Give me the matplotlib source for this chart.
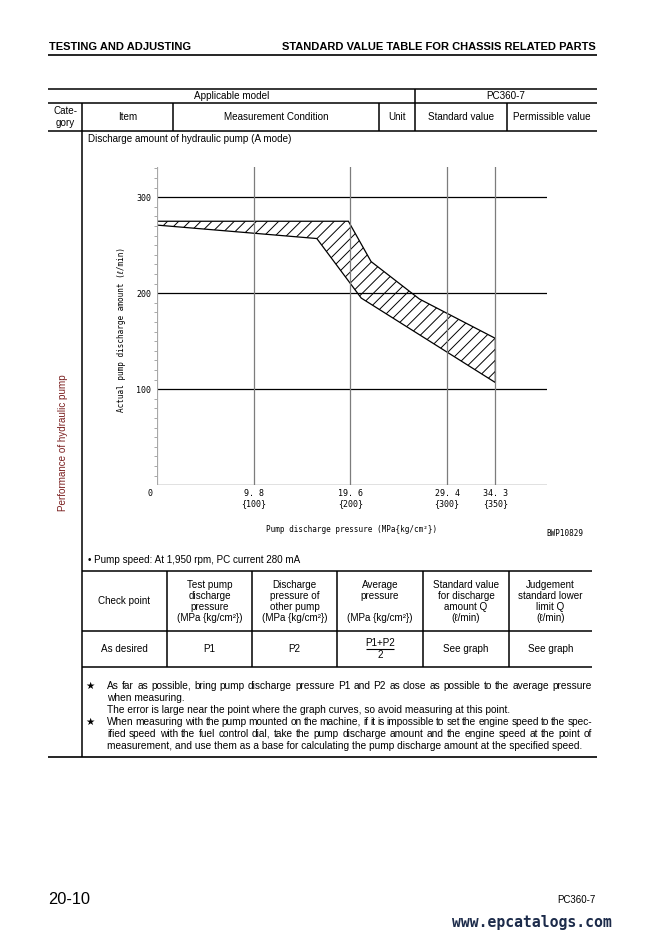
import matplotlib
matplotlib.use("Agg")
import matplotlib.pyplot as plt

plt.rcParams['font.family'] = ['Liberation Sans', 'DejaVu Sans']
plt.rcParams['hatch.linewidth'] = 0.7

W, H = 663, 939
MONO = ['DejaVu Sans Mono', 'DejaVu Sans']
BODY = 7.1

# Valori (pressione MPa, portata l/min)
pressure_mpa = [9.8, 19.6, 29.4, 34.3]
pressure_kg = [100, 200, 300, 350]
flow_ticks = [100, 200, 300]
upper_p = [0, 19.4, 21.7, 26.6, 34.3]
upper_q = [275, 275, 233, 194, 153]
lower_p = [0, 16.2, 20.7, 34.3]
lower_q = [271, 257, 195, 107]

header_cols = ["Check point",
               "Test pump\ndischarge\npressure\n(MPa {kg/cm²})",
               "Discharge\npressure of\nother pump\n(MPa {kg/cm²})",
               "Average\npressure\n\n(MPa {kg/cm²})",
               "Standard value\nfor discharge\namount Q\n(ℓ/min)",
               "Judgement\nstandard lower\nlimit Q\n(ℓ/min)"]
row_vals = ["As desired", "P1", "P2", None, "See graph", "See graph"]

notes = [
    ("★", "As far as possible, bring pump discharge pressure P1 and P2 as close as possible to the average pressure", True),
    ("", "when measuring.", False),
    ("", "The error is large near the point where the graph curves, so avoid measuring at this point.", False),
    ("★", "When measuring with the pump mounted on the machine, if it is impossible to set the engine speed to the spec-", True),
    ("", "ified speed with the fuel control dial, take the pump discharge amount and the engine speed at the point of", True),
    ("", "measurement, and use them as a base for calculating the pump discharge amount at the specified speed.", False),
]

fig = plt.figure(figsize=(W / 100, H / 100), dpi=100)
page = fig.add_axes([0, 0, 1, 1])
page.set_xlim(0, W)
page.set_ylim(H, 0)
page.axis('off')


def hl(y, x0, x1, lw=1.1, color='black'):
    page.plot([x0, x1], [y, y], color=color, lw=lw, solid_capstyle='butt')


def vl(x, y0, y1, lw=1.1, color='black'):
    page.plot([x, x], [y0, y1], color=color, lw=lw, solid_capstyle='butt')


def txt(x, y, s, ha='center', size=BODY, **kw):
    return page.text(x, y, s, ha=ha, va='center', fontsize=size, **kw)


def justified(y, x0, x1, s, size=7.25):
    words = s.split()
    r = fig.canvas.get_renderer()
    arts = [page.text(0, y, w, ha='left', va='center', fontsize=size) for w in words]
    widths = [a.get_window_extent(r).width for a in arts]
    gap = (x1 - x0 - sum(widths)) / (len(words) - 1)
    x = x0
    for a, w in zip(arts, widths):
        a.set_x(x)
        x += w + gap


# intestazione pagina
txt(49, 47, "TESTING AND ADJUSTING", ha='left', size=8.0, weight='bold')
txt(596, 47, "STANDARD VALUE TABLE FOR CHASSIS RELATED PARTS", ha='right', size=8.0, weight='bold')
hl(54.5, 48, 597, lw=1.2)

# tabella superiore
hl(88.5, 48, 597)
hl(103, 48, 597)
hl(131, 48, 597)
vl(82, 103, 757)
vl(173, 103, 131)
vl(379, 103, 131)
vl(415, 88.5, 131)
vl(507, 103, 131)
txt(232, 96, "Applicable model")
txt(506, 96, "PC360-7")
txt(65, 117, "Cate-\ngory", linespacing=1.25)
txt(128, 117, "Item")
txt(276, 117, "Measurement Condition")
txt(397, 117, "Unit")
txt(461, 117, "Standard value")
txt(552, 117, "Permissible value")
txt(88, 139, "Discharge amount of hydraulic pump (A mode)", ha='left')
txt(63, 443, "Performance of hydraulic pump", rotation=90, color='#7a1f1f')

# grafico
x_max, y_max = 39.5, 331.5
px0, px1, py0, py1 = 157, 546.7, 485.3, 167
ax = fig.add_axes([px0 / W, 1 - py0 / H, (px1 - px0) / W, (py0 - py1) / H])
ax.set_xlim(0, x_max)
ax.set_ylim(0, y_max)
ax.patch.set_alpha(0)
for s in ax.spines.values():
    s.set_visible(False)

for q in flow_ticks:
    ax.axhline(q, color='black', lw=0.9)
ax.axhline(0, color='#6a6a6a', lw=1.0)
for p in pressure_mpa:
    ax.axvline(p, color='#7c7c7c', lw=0.9)
ax.axvline(0, color='#a8a8a8', lw=1.6)

band_x = upper_p + lower_p[::-1]
band_y = upper_q + lower_q[::-1]
ax.fill(band_x, band_y, facecolor='none', edgecolor='black', hatch='///', lw=0.9)

ax.set_yticks(flow_ticks, [str(q) for q in flow_ticks])
ax.set_yticks(range(10, 331, 10), minor=True)
ax.tick_params(axis='y', which='major', length=0, pad=4, labelsize=6)
ax.tick_params(axis='y', which='minor', length=2, color='#9a9a9a', width=0.6)
ax.set_xticks(pressure_mpa, [f"{m:.1f}".replace('.', '. ') + f"\n{{{k}}}"
                             for m, k in zip(pressure_mpa, pressure_kg)])
ax.tick_params(axis='x', length=0, pad=3, labelsize=6)
for lbl in ax.get_xticklabels() + ax.get_yticklabels():
    lbl.set_family(MONO)
    lbl.set_linespacing(1.1)

txt(150, 494, "0", size=6, family=MONO)
txt(121, 330, "Actual pump discharge amount (ℓ/min)", size=5.5, family=MONO, rotation=90)
txt(352, 529, "Pump discharge pressure (MPa{kg/cm²})", size=5.5, family=MONO)
txt(565, 534, "BWP10829", size=5.5, family=MONO)

# tabella inferiore
txt(88, 560, "• Pump speed: At 1,950 rpm, PC current 280 mA", ha='left')
col_x = [82, 167, 252, 337, 423, 509, 592]
hl(571, 82, 592)
hl(631, 82, 592)
hl(667, 82, 592)
for x in col_x[1:-1]:
    vl(x, 571, 667)
for i, (head, val) in enumerate(zip(header_cols, row_vals)):
    cx = (col_x[i] + col_x[i + 1]) / 2
    txt(cx, 601.5, head, linespacing=1.1)
    if val is not None:
        txt(cx, 649, val)
    else:
        txt(cx, 643, "P1+P2")
        txt(cx, 655.5, "2")
        hl(649, cx - 14, cx + 14, lw=0.8)

# note
ny = [686, 698, 710, 722, 734, 746]
for y, (star, line, just) in zip(ny, notes):
    if star:
        txt(90, y, star, size=7.5)
    if just:
        justified(y, 107, 592, line)
    else:
        txt(107, y, line, ha='left', size=7.25)
hl(757, 48, 597, lw=1.2)

# piè di pagina
txt(48, 899, "20-10", ha='left', size=11.8)
txt(596, 900, "PC360-7", ha='right', size=7)
txt(452, 922, "www.epcatalogs.com", ha='left', size=10.6, family=MONO,
    weight='bold', color='#1c2b4a')

fig.savefig("out.png", dpi=100)
